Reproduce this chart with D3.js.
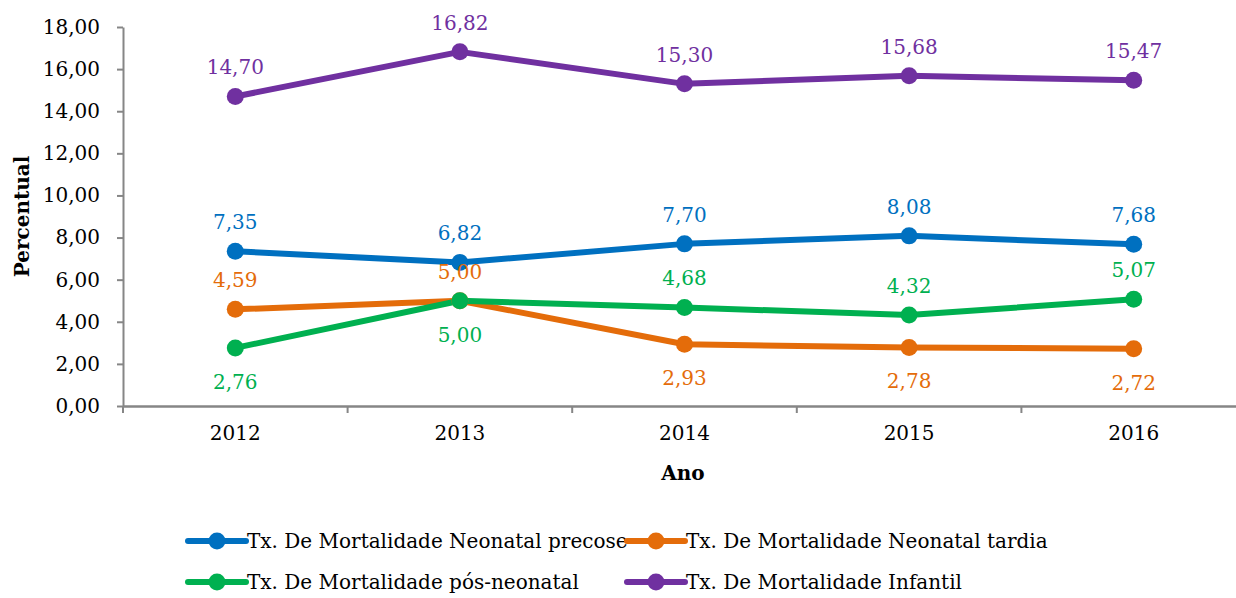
<!DOCTYPE html>
<html>
<head>
<meta charset="utf-8">
<script src="https://cdn.jsdelivr.net/npm/d3@7"></script>
<style>
  body { margin: 0; background: #fff; }
  svg { display: block; font-family: "DejaVu Serif", serif; }
</style>
</head>
<body>
<svg width="1236" height="598"></svg>
<script>
// data
const years = ['2012', '2013', '2014', '2015', '2016'];
const precose = [7.35, 6.82, 7.70, 8.08, 7.68];
const tardia = [4.59, 5.00, 2.93, 2.78, 2.72];
const posNeonatal = [2.76, 5.00, 4.68, 4.32, 5.07];
const infantil = [14.70, 16.82, 15.30, 15.68, 15.47];
const seriesNames = [
  'Tx. De Mortalidade Neonatal precose',
  'Tx. De Mortalidade Neonatal tardia',
  'Tx. De Mortalidade pós-neonatal',
  'Tx. De Mortalidade Infantil'
];
const yTicks = [0, 2, 4, 6, 8, 10, 12, 14, 16, 18];

// which labels sit under the point (per series, per year)
const labelBelow = [
  [false, false, false, false, false],
  [false, false, true, true, true],
  [true, true, false, false, false],
  [false, false, false, false, false]
];

const colors = ['#0070C0', '#E46C0A', '#00B050', '#7030A0'];
const series = [precose, tardia, posNeonatal, infantil].map((vals, i) => ({
  name: seriesNames[i], color: colors[i], values: vals, below: labelBelow[i]
}));

const svg = d3.select('svg');
const mLeft = 123, mRight = 1246, mTop = 27, mBottom = 406;
const fontSize = '20px';
const fmt = v => d3.format('.2f')(v).replace('.', ',');

const x = d3.scaleBand().domain(years).range([mLeft, mRight]);
const y = d3.scaleLinear().domain([0, 18]).range([mBottom, mTop]);
const xc = d => x(d) + x.bandwidth() / 2;

/* ---------- axes ---------- */
const axisColor = '#868686';

const yAxis = svg.append('g')
  .attr('transform', `translate(${mLeft},0)`)
  .call(d3.axisLeft(y).tickValues(yTicks).tickFormat(fmt).tickSize(6).tickSizeOuter(0).tickPadding(17));
yAxis.select('.domain').attr('stroke', axisColor).attr('stroke-width', 2);
yAxis.selectAll('.tick line').attr('stroke', axisColor).attr('stroke-width', 2);
yAxis.selectAll('.tick text').attr('fill', '#000').style('font-size', fontSize)
  .style('font-family', '"DejaVu Serif", serif');

const xAxis = svg.append('g')
  .attr('transform', `translate(0,${mBottom})`)
  .call(d3.axisBottom(x).tickSize(0).tickPadding(20));
xAxis.select('.domain').attr('stroke', axisColor).attr('stroke-width', 2.5);
xAxis.selectAll('.tick text').attr('fill', '#000').style('font-size', fontSize)
  .style('font-family', '"DejaVu Serif", serif');

// Excel-style ticks between categories
const boundaries = years.map(d => x(d)).concat([x(years[years.length - 1]) + x.bandwidth()]);
svg.append('g').selectAll('line').data(boundaries).join('line')
  .attr('x1', d => d).attr('x2', d => d)
  .attr('y1', mBottom).attr('y2', mBottom + 7)
  .attr('stroke', axisColor).attr('stroke-width', 2);

// axis titles
svg.append('text')
  .attr('transform', `translate(29,${(mTop + mBottom) / 2}) rotate(-90)`)
  .attr('text-anchor', 'middle')
  .style('font-weight', 'bold').style('font-size', fontSize)
  .text('Percentual');

svg.append('text')
  .attr('x', (mLeft + 1243) / 2).attr('y', 480)
  .attr('text-anchor', 'middle')
  .style('font-weight', 'bold').style('font-size', fontSize)
  .text('Ano');

/* ---------- lines, markers, labels ---------- */
const line = d3.line().x((d, i) => xc(years[i])).y(d => y(d));

const g = svg.append('g');
series.forEach(s => {
  g.append('path')
    .attr('d', line(s.values))
    .attr('fill', 'none')
    .attr('stroke', s.color)
    .attr('stroke-width', 6)
    .attr('stroke-linejoin', 'round');
});
series.forEach(s => {
  g.selectAll(null).data(s.values).join('circle')
    .attr('cx', (d, i) => xc(years[i]))
    .attr('cy', d => y(d))
    .attr('r', 8.5)
    .attr('fill', s.color);
  g.selectAll(null).data(s.values).join('text')
    .attr('x', (d, i) => xc(years[i]))
    .attr('y', (d, i) => s.below[i] ? y(d) + 41 : y(d) - 22)
    .attr('text-anchor', 'middle')
    .attr('fill', s.color)
    .style('font-size', fontSize)
    .text(d => fmt(d));
});

/* ---------- legend ---------- */
const legendPos = [[188, 541], [627, 541], [188, 582], [627, 582]];
const legend = svg.append('g').selectAll('g').data(series).join('g')
  .attr('transform', (d, i) => `translate(${legendPos[i][0]},${legendPos[i][1]})`);
legend.append('line')
  .attr('x1', 0).attr('x2', 58).attr('y1', 0).attr('y2', 0)
  .attr('stroke', d => d.color).attr('stroke-width', 6).attr('stroke-linecap', 'round');
legend.append('circle')
  .attr('cx', 29).attr('cy', 0).attr('r', 8.5)
  .attr('fill', d => d.color);
legend.append('text')
  .attr('x', 59).attr('y', 7)
  .style('font-size', fontSize)
  .attr('fill', '#000')
  .text(d => d.name);
</script>
</body>
</html>
